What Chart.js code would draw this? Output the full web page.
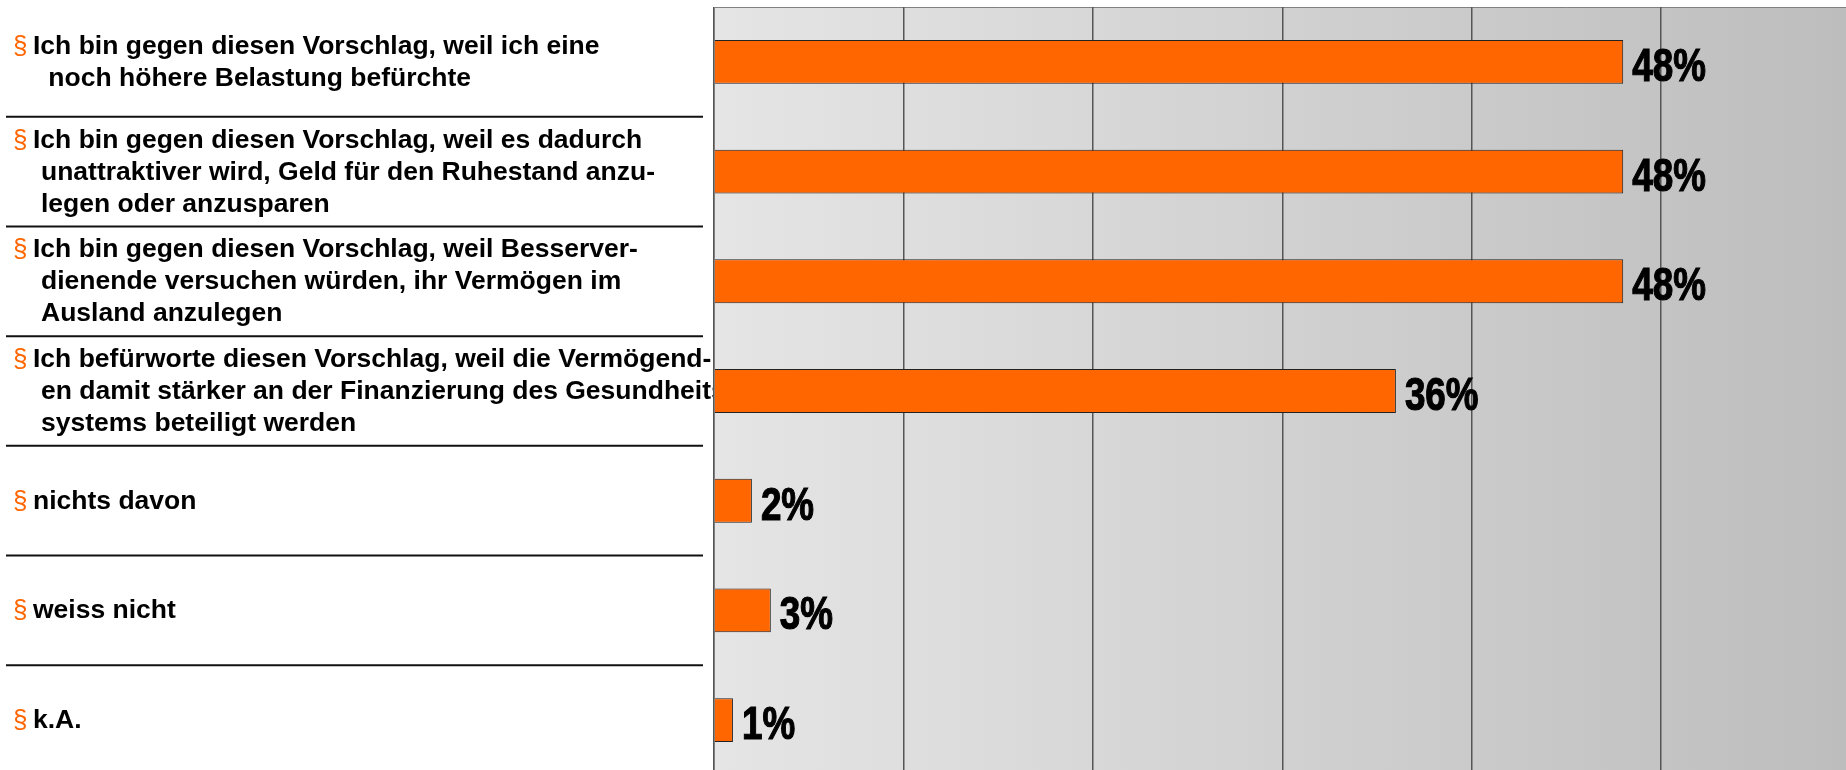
<!DOCTYPE html>
<html>
<head>
<meta charset="utf-8">
<script src="https://cdn.jsdelivr.net/npm/chart.js@4/dist/chart.umd.min.js"></script>
<style>
  html, body { margin: 0; padding: 0; background: #fff; overflow: hidden; }
  #wrap { position: absolute; left: 0; top: 0; width: 1846px; height: 770px; overflow: hidden; }
  canvas { position: absolute; left: 0; top: 0; }
</style>
</head>
<body>
<div id="wrap"><canvas id="chart" width="1852" height="776"></canvas></div>
<script>
// answer options, one array of lines each
const answers = [
  ['Ich bin gegen diesen Vorschlag, weil ich eine', ' noch höhere Belastung befürchte'],
  ['Ich bin gegen diesen Vorschlag, weil es dadurch', 'unattraktiver wird, Geld für den Ruhestand anzu-', 'legen oder anzusparen'],
  ['Ich bin gegen diesen Vorschlag, weil Besserver-', 'dienende versuchen würden, ihr Vermögen im', 'Ausland anzulegen'],
  ['Ich befürworte diesen Vorschlag, weil die Vermögend-', 'en damit stärker an der Finanzierung des Gesundheits-', 'systems beteiligt werden'],
  ['nichts davon'],
  ['weiss nicht'],
  ['k.A.'],
];
const shares = [48, 48, 48, 36, 2, 3, 1];
const xMax = 60;
const xStep = 10;

// labels on the left, separator lines, then the plot background over them
const leftLabels = {
  id: 'leftLabels',
  beforeDraw(chart) {
    const { ctx, chartArea: a, scales: { y } } = chart;
    ctx.save();
    const lh = 32;
    answers.forEach((lines, i) => {
      const cy = y.getPixelForValue(i);
      lines.forEach((line, j) => {
        const base = cy + (j - (lines.length - 1) / 2) * lh + 8;
        if (j === 0) {
          ctx.font = '26px "Liberation Sans", Arial, sans-serif';
          ctx.fillStyle = '#ff6600';
          ctx.fillText('§', 13, base);
        }
        ctx.font = 'bold 26.5px "Liberation Sans", Arial, sans-serif';
        ctx.fillStyle = '#000';
        ctx.fillText(line, j === 0 ? 33 : 41, base);
      });
      if (i < answers.length - 1) {
        const sy = (y.getPixelForValue(i) + y.getPixelForValue(i + 1)) / 2;
        ctx.strokeStyle = '#111';
        ctx.lineWidth = 2;
        ctx.beginPath();
        ctx.moveTo(6, sy);
        ctx.lineTo(703, sy);
        ctx.stroke();
      }
    });
    const g = ctx.createLinearGradient(a.left, 0, a.right, 0);
    g.addColorStop(0, '#e5e5e5');
    g.addColorStop(1, '#bdbdbd');
    ctx.fillStyle = g;
    ctx.fillRect(a.left, a.top, a.right - a.left, a.bottom - a.top);
    ctx.strokeStyle = '#808080';
    ctx.lineWidth = 1;
    ctx.beginPath();
    ctx.moveTo(a.left, a.top + 0.5);
    ctx.lineTo(a.right, a.top + 0.5);
    ctx.stroke();
    ctx.restore();
  },
};

const valueLabels = {
  id: 'valueLabels',
  afterDatasetsDraw(chart) {
    const { ctx } = chart;
    const meta = chart.getDatasetMeta(0);
    ctx.save();
    ctx.font = 'bold 46px "Liberation Sans", Arial, sans-serif';
    ctx.fillStyle = '#000';
    ctx.strokeStyle = '#000';
    ctx.lineWidth = 1.2;
    meta.data.forEach((bar, i) => {
      ctx.save();
      ctx.translate(bar.x + 9, bar.y + 19);
      ctx.scale(0.8, 1);
      ctx.fillText(shares[i] + '%', 0, 0);
      ctx.strokeText(shares[i] + '%', 0, 0);
      ctx.restore();
    });
    ctx.restore();
  },
};

new Chart(document.getElementById('chart'), {
  type: 'bar',
  data: {
    labels: answers,
    datasets: [
      {
        data: shares,
        backgroundColor: '#ff6600',
        borderColor: '#222',
        borderWidth: 1,
        barPercentage: 0.4,
        categoryPercentage: 1,
      },
    ],
  },
  options: {
    indexAxis: 'y',
    responsive: false,
    animation: false,
    devicePixelRatio: 1,
    layout: { padding: { left: 714, top: 7, right: 1.5, bottom: 1 } },
    plugins: { legend: { display: false }, tooltip: { enabled: false } },
    scales: {
      x: {
        min: 0,
        max: xMax,
        ticks: { display: false, stepSize: xStep },
        grid: { color: '#555', lineWidth: 1.5, drawTicks: false },
        border: { display: false },
      },
      y: {
        ticks: { display: false },
        grid: { display: false, drawTicks: false },
        border: { display: true, color: '#808080', width: 1 },
      },
    },
  },
  plugins: [leftLabels, valueLabels],
});
</script>
</body>
</html>
